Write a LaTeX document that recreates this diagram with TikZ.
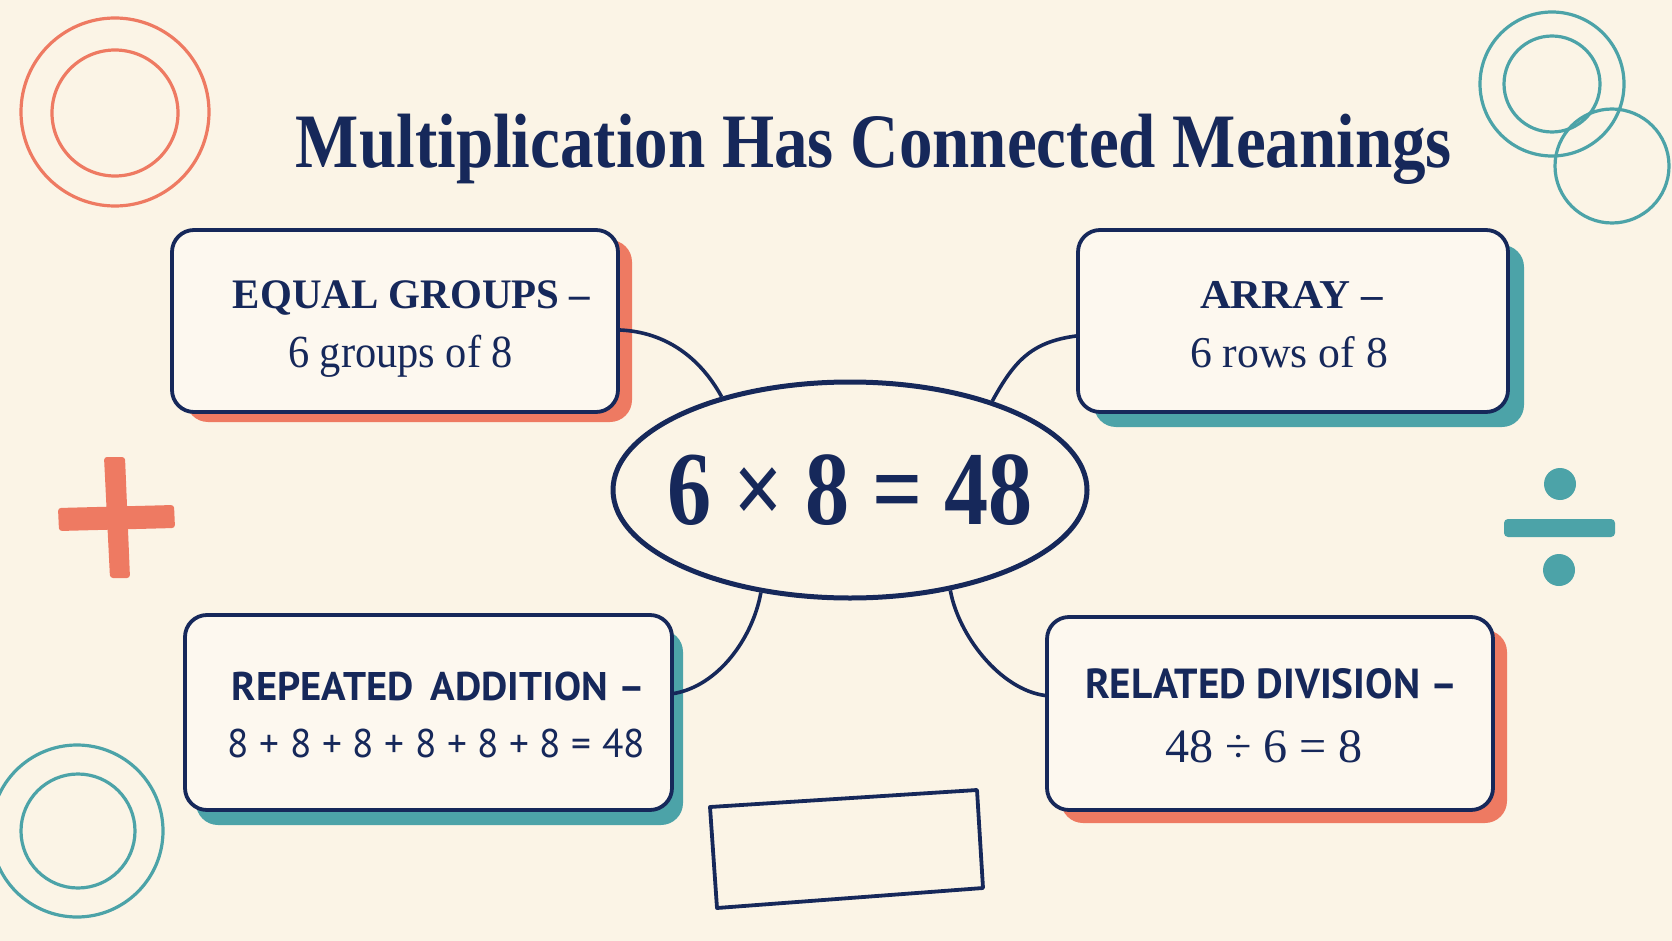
\documentclass[tikz,border=0pt]{standalone}
\usepackage{graphicx}
\usepackage{fontspec}
\setmainfont{Liberation Serif}
\newfontfamily\sansf{PT Sans}
\usetikzlibrary{shapes.geometric,shadows,calc}
\definecolor{navy}{HTML}{16285A}
\definecolor{coral}{HTML}{EE7A62}
\definecolor{teal}{HTML}{4CA3A8}
\definecolor{paper}{HTML}{FBF4E6}
\definecolor{cardfill}{HTML}{FDF8EF}
\newcommand\fitto[2]{\resizebox{#1}{\height}{#2}}
\begin{document}
\begin{tikzpicture}[x=1pt,y=-1pt,
  card/.style={draw=navy, line width=3.8pt, fill=cardfill, rounded corners=22pt, rectangle, inner sep=0pt},
  txt/.style={inner sep=0pt, anchor=base, text=navy},
  link/.style={draw=navy, line width=3.6pt},
  ring/.style={line width=3.2pt}]
\useasboundingbox (0,0) rectangle (1672,941);
\fill[paper] (0,0) rectangle (1672,941);

% decorations
\draw[ring, coral] (115,112) circle[radius=94pt];
\draw[ring, coral] (115,113) circle[radius=63pt];
\draw[ring, teal] (1552,84) circle[radius=72pt];
\draw[ring, teal] (1552,84) circle[radius=48pt];
\draw[ring, teal] (1612,166) circle[radius=57pt];
\draw[ring, teal] (77,831) circle[radius=86pt];
\draw[ring, teal] (78,831) circle[radius=57pt];
\fill[coral, rounded corners=3pt] (58,508) -- (174,505) -- (175,528) -- (59,531) -- cycle;
\fill[coral, rounded corners=3pt] (104,457) -- (125,457) -- (130,578) -- (110,578) -- cycle;
\fill[teal] (1560,484) circle[radius=16pt];
\fill[teal] (1559,570) circle[radius=16pt];
\fill[teal, rounded corners=4pt] (1504,519) rectangle (1615,537);
\draw[navy, line width=3.8pt, line join=round] (710,807) -- (977,790) -- (983,888) -- (717,908) -- cycle;

% title
\node[txt] (title) at (874,168) {\fitto{1156pt}{\bfseries\fontsize{77}{80}\selectfont Multiplication Has Connected Meanings}};

% cards
\node[card, minimum width=446pt, minimum height=182pt,
  drop shadow={fill=coral, opacity=1, shadow xshift=14pt, shadow yshift=-10pt}] (eg) at (395,321) {};
\node[card, minimum width=430pt, minimum height=182pt,
  drop shadow={fill=teal, opacity=1, shadow xshift=16pt, shadow yshift=-15pt}] (ar) at (1293,321) {};
\node[card, minimum width=487pt, minimum height=195pt,
  drop shadow={fill=teal, opacity=1, shadow xshift=11pt, shadow yshift=-15pt}] (ra) at (428.5,712.5) {};
\node[card, minimum width=446pt, minimum height=193pt,
  drop shadow={fill=coral, opacity=1, shadow xshift=14pt, shadow yshift=-13pt}] (rd) at (1270,713.5) {};

% card texts
\node[txt] (eg1) at (411.5,308) {\fitto{357pt}{\bfseries\fontsize{42}{44}\selectfont EQUAL GROUPS –}};
\node[txt] (eg2) at (400.5,367) {\fitto{225pt}{\fontsize{46}{48}\selectfont 6 groups of 8}};
\node[txt] (ar1) at (1291.5,308) {\fitto{183pt}{\bfseries\fontsize{41}{44}\selectfont ARRAY –}};
\node[txt] (ar2) at (1289,367) {\fitto{198pt}{\fontsize{44}{46}\selectfont 6 rows of 8}};
\node[txt] (ra1) at (438.5,700) {\fitto{413pt}{\sansf\bfseries\fontsize{40}{42}\selectfont REPEATED\, ADDITION –}};
\node[txt] (ra2) at (436.5,757) {\fitto{417pt}{\sansf\fontsize{40}{42}\selectfont 8 + 8 + 8 + 8 + 8 + 8 = 48}};
\node[txt] (rd1) at (1271.5,698) {\fitto{373pt}{\sansf\bfseries\fontsize{42}{44}\selectfont RELATED DIVISION –}};
\node[txt] (rd2) at (1264,762) {\fitto{198pt}{\fontsize{48}{50}\selectfont 48 ÷ 6 = 8}};

% center ellipse
\node[ellipse, draw=navy, line width=5pt, minimum width=474pt, minimum height=216pt, inner sep=0pt, text=navy] (c) at (850,490)
  {\makebox[0pt]{\fitto{365pt}{\bfseries\fontsize{105}{110}\selectfont 6 × 8 = 48}}};

% connectors
\draw[link] ($(eg.east)+(0,9)$) .. controls +(45,2) and +(-22,-40) .. (c.144);
\draw[link] (c.32) .. controls +(22,-40) and +(-45,6) .. ($(ar.west)+(0,15)$);
\draw[link] ($(ra.east)+(0,-19)$) .. controls +(45,-8) and +(-8,45) .. (c.229);
\draw[link] (c.-45) .. controls +(8,45) and +(-45,-6) .. ($(rd.west)+(0,-18)$);
\end{tikzpicture}
\end{document}
